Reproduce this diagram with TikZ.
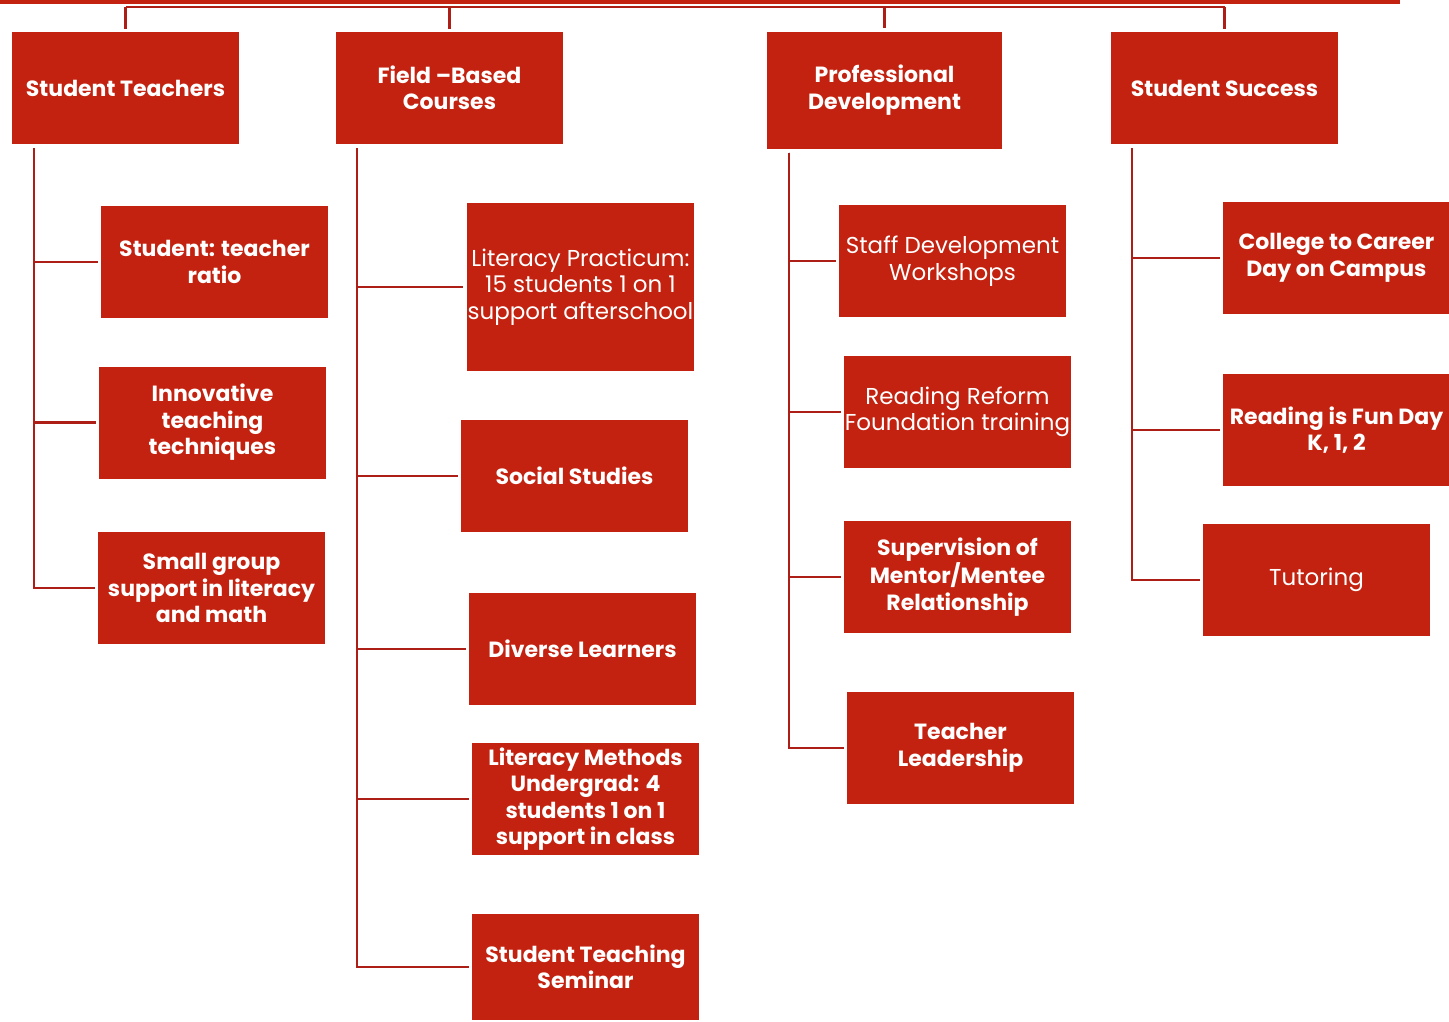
\documentclass[tikz,border=0pt]{standalone}
\usepackage{fontspec}
\setmainfont{Poppins}
\usetikzlibrary{positioning}
\definecolor{boxred}{RGB}{195,34,16}
\definecolor{linkred}{RGB}{172,30,22}

\begin{document}
\begin{tikzpicture}[
    x=1pt, y=-1pt,
    box/.style={rectangle, fill=boxred, text=white, minimum width=227pt, minimum height=112pt, align=center, inner sep=1pt, font=\fontsize{22}{26.5}\selectfont\bfseries},
    thin/.style={font=\fontsize{23}{26.5}\selectfont},
    link/.style={draw=linkred, line width=2.2pt},
    branch/.style={link, shorten <=4pt, shorten >=3pt}
]
\useasboundingbox (0,0) rectangle (1449,1021);

% Top bar
\fill[boxred] (0,0) rectangle (1400,3.5);
\coordinate (bar) at (0,7);

% Headers
\node[box] (st) at (125.5,88) {Student Teachers};
\node[box] (fb) at (449.5,88) {Field –Based\\Courses};
\node[box, minimum width=235pt, minimum height=117pt] (pd) at (884.5,90) {Professional\\Development};
\node[box] (ss) at (1224.5,88) {Student Success};

% Student teachers
\node[box] (ratio) at (214.5,262) {Student: teacher\\ratio};
\node[box] (innov) at (212.5,422.5) {Innovative\\teaching\\techniques};
\node[box] (small) at (211.5,588) {Small group\\support in literacy\\and math};

% Field based courses
\node[box, thin, minimum height=168pt] (pract) at (580.5,287) {Literacy Practicum:\\15 students 1 on 1\\support afterschool};
\node[box] (social) at (574.5,476) {Social Studies};
\node[box] (diverse) at (582.5,649) {Diverse Learners};
\node[box] (methods) at (585.5,799) {Literacy Methods\\Undergrad: 4\\students 1 on 1\\support in class};
\node[box, minimum height=106pt] (seminar) at (585.5,967) {Student Teaching\\Seminar};

% Professional development
\node[box, thin] (staff) at (952.5,261) {Staff Development\\Workshops};
\node[box, thin] (reform) at (957.5,412) {Reading Reform\\Foundation training};
\node[box] (superv) at (957.5,577) {Supervision of\\Mentor/Mentee\\Relationship};
\node[box] (leader) at (960.5,748) {Teacher\\Leadership};

% Student success
\node[box] (career) at (1336.5,258) {College to Career\\Day on Campus};
\node[box] (fun) at (1336.5,430) {Reading is Fun Day\\K, 1, 2};
\node[box, thin] (tutor) at (1316.5,580) {Tutoring};

% Connections
\draw[link, line width=1.6pt] (bar -| st.north) -- (bar -| ss.north);
\foreach \h in {st,fb,pd,ss}
    \draw[link, shorten >=3pt] (bar -| \h.north) -- (\h.north);

\foreach \c in {ratio,innov,small}
    \draw[branch] ([xshift=22pt]st.south west) |- (\c.west);
\foreach \c in {pract,social,diverse,methods,seminar}
    \draw[branch] ([xshift=21pt]fb.south west) |- (\c.west);
\foreach \c in {staff,reform,superv,leader}
    \draw[branch] ([xshift=22pt]pd.south west) |- (\c.west);
\foreach \c in {career,fun,tutor}
    \draw[branch] ([xshift=21pt]ss.south west) |- (\c.west);

\end{tikzpicture}
\end{document}
